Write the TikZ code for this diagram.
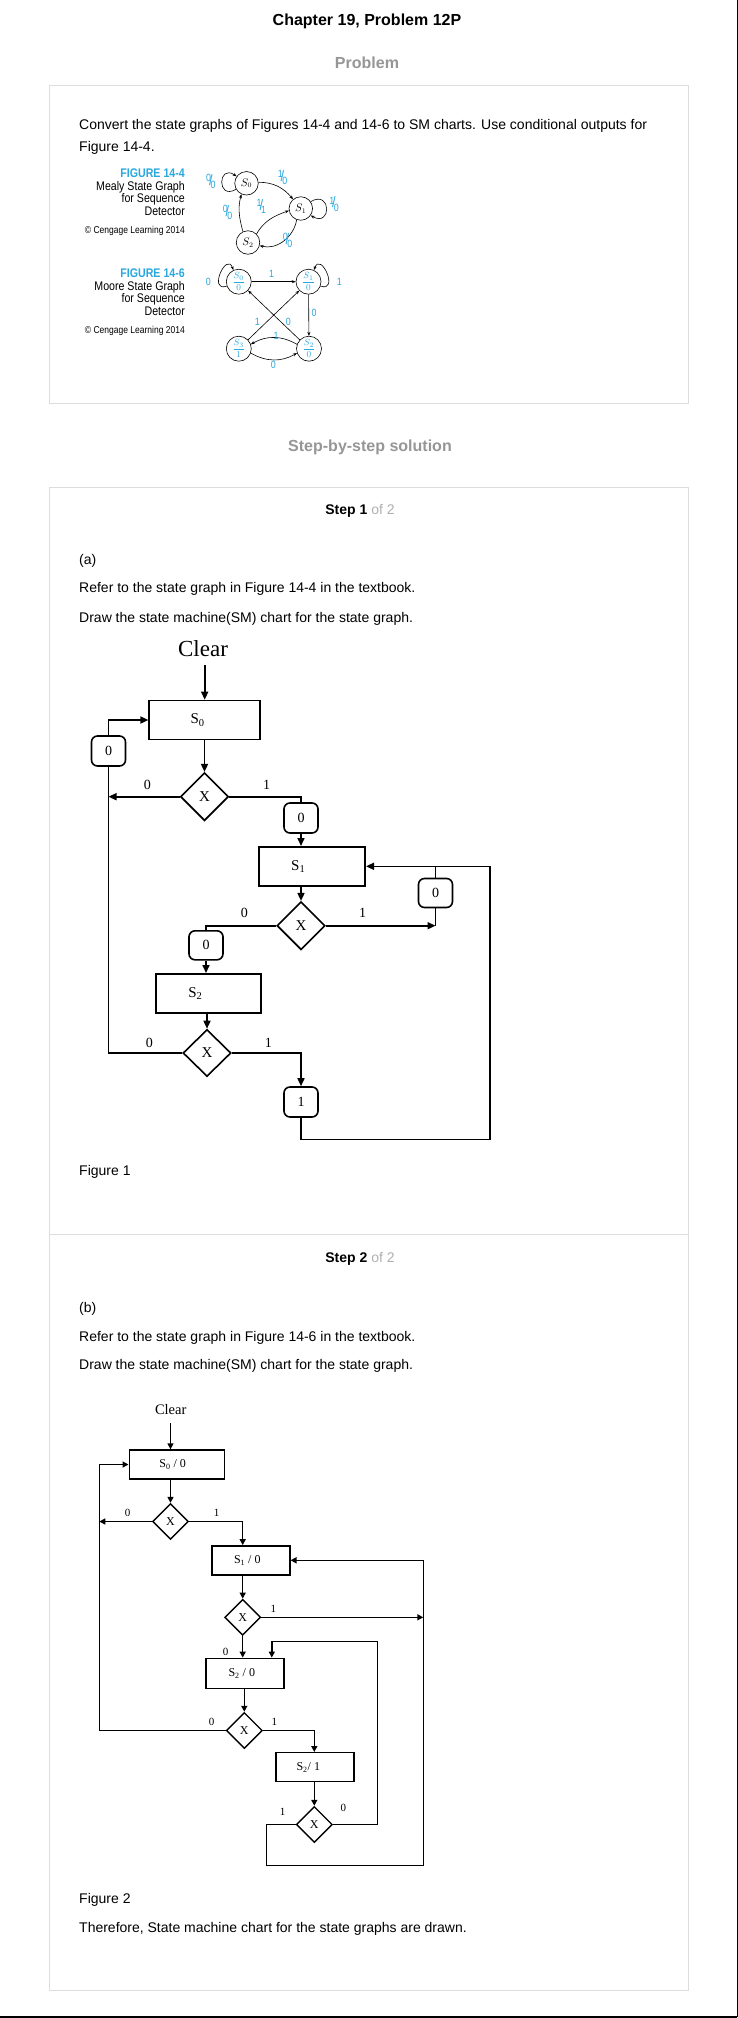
\documentclass[tikz,border=0pt]{standalone}
\usepackage{amsmath}
\usepackage{fontspec}
\setmainfont{Liberation Sans}
\newfontfamily\chartfont{Liberation Serif}
\newfontfamily\figfont[FakeStretch=0.85]{Liberation Sans}
\usepackage{xcolor}
\usetikzlibrary{shapes,arrows,positioning,calc,arrows.meta}

\definecolor{figblue}{RGB}{41,168,224}
\definecolor{framegray}{RGB}{221,221,221}
\definecolor{headgray}{RGB}{150,150,150}
\definecolor{stepgray}{RGB}{175,175,175}

\newcommand{\fs}[1]{\fontsize{#1pt}{#1pt}\selectfont}
\newcommand{\slfrac}[2]{\raisebox{3.5pt}{#1}\kern-2pt{\fs{15}/}\kern-2pt\raisebox{-3.5pt}{#2}}

\begin{document}
\begin{tikzpicture}[x=1pt,y=-1pt,
    txt/.style={anchor=base west, inner sep=0, font=\fs{14}},
    head/.style={anchor=base, inner sep=0, font=\fs{16}\bfseries, text=headgray},
    panel/.style={draw=framegray, line width=1pt},
    sbox/.style={draw, line width=1.6pt, minimum height=39pt, inner sep=0},
    dbox/.style={draw, diamond, line width=1.6pt, minimum width=48pt, minimum height=48pt, inner sep=0, font=\chartfont\fs{15}},
    cbox/.style={draw, line width=1.6pt, rounded corners=6pt, minimum width=34pt, minimum height=30pt, inner sep=0, font=\chartfont\fs{14}},
    slbl/.style={font=\chartfont\fs{15}},
    lbl/.style={inner sep=0, font=\chartfont\fs{14}},
    sarr/.style={line width=1.6pt, -{Triangle[length=8pt,width=7pt]}},
    tbox/.style={draw, line width=1.4pt, minimum width=78pt, minimum height=29pt, inner sep=0},
    ebox/.style={draw, diamond, line width=1.4pt, minimum width=36pt, minimum height=36pt, inner sep=0, font=\chartfont\fs{12}},
    tlbl/.style={font=\chartfont\fs{12}},
    slab/.style={inner sep=0, font=\chartfont\fs{11}},
    tarr/.style={line width=1.4pt, -{Triangle[length=6pt,width=6pt]}},
    figtxt/.style={anchor=base east, inner sep=0, font=\figfont\fs{12.5}},
    fst/.style={draw, circle, line width=0.6pt, minimum size=23.5pt, inner sep=0},
    farr/.style={line width=0.6pt, -{Stealth[length=4pt,width=3pt]}},
    flbl/.style={inner sep=0, text=figblue, font=\figfont\fs{10.5}}]

    % Page
    \fill[white] (0,0) rectangle (738,2018);
    \useasboundingbox (0,0) rectangle (738,2018);
    \draw[line width=1.2pt] (0,2017) -- (737.4,2017);
    \draw[line width=1.2pt] (737.4,0) -- (737.4,2017);

    % Problem
    \node[head, text=black] (title) at (367,26) {Chapter 19, Problem 12P};
    \node[head] (probhead) at (367,68) {Problem};
    \draw[panel] (49,85) rectangle (688,403);
    \node[txt] (task1) at (79,129) {Convert the state graphs of Figures 14-4 and 14-6 to SM charts. Use conditional outputs for};
    \node[txt] (task2) at (79,151.7) {Figure 14-4.};

    % Figure 14-4 caption
    \node[figtxt, text=figblue, font=\figfont\fs{12.5}\bfseries] (f4a) at (185,177.6) {FIGURE 14-4};
    \node[figtxt] (f4b) at (185,190.3) {Mealy State Graph};
    \node[figtxt] (f4c) at (185,202.8) {for Sequence};
    \node[figtxt] (f4d) at (185,215.3) {Detector};
    \node[figtxt, font=\figfont\fs{10}] (f4e) at (185,233.5) {\textcopyright\ Cengage Learning 2014};

    % Mealy graph
    \node[fst] (m0) at (246.5,183.3) {\fs{10.5}$S_0$};
    \node[fst] (m1) at (300.8,208.5) {\fs{10.5}$S_1$};
    \node[fst] (m2) at (248,242.5) {\fs{10.5}$S_2$};
    \draw[farr] (m0.210) to[out=210,in=145,looseness=4.5] (m0.145);
    \draw[farr] (m0.5) to[out=0,in=130] (m1.130);
    \draw[farr] (m1.35) to[out=30,in=-30,looseness=4.5] (m1.-35);
    \draw[farr] (m1.-110) to[out=-100,in=-15] (m2.-15);
    \draw[farr] (m2.45) to[out=60,in=200] (m1.190);
    \draw[farr] (m2.115) to[out=105,in=-105] (m0.-115);
    \node[flbl] (g1) at (210.8,181.7) {\slfrac{0}{0}};
    \node[flbl] (g2) at (282.5,177.5) {\slfrac{1}{0}};
    \node[flbl] (g3) at (334,204) {\slfrac{1}{0}};
    \node[flbl] (g4) at (261.3,206.5) {\slfrac{1}{1}};
    \node[flbl] (g5) at (227.5,212.5) {\slfrac{0}{0}};
    \node[flbl] (g6) at (287.5,240.8) {\slfrac{0}{0}};

    % Figure 14-6 caption
    \node[figtxt, text=figblue, font=\figfont\fs{12.5}\bfseries] (f6a) at (185,277.6) {FIGURE 14-6};
    \node[figtxt] (f6b) at (185,290.3) {Moore State Graph};
    \node[figtxt] (f6c) at (185,302.8) {for Sequence};
    \node[figtxt] (f6d) at (185,315.3) {Detector};
    \node[figtxt, font=\figfont\fs{10}] (f6e) at (185,333.5) {\textcopyright\ Cengage Learning 2014};

    % Moore graph
    \node[fst, minimum size=25pt, text=figblue] (n0) at (238.8,281.7) {\fs{9.5}$\dfrac{S_0}{0}$};
    \node[fst, minimum size=25pt, text=figblue] (n1) at (308.5,281.7) {\fs{9.5}$\dfrac{S_1}{0}$};
    \node[fst, minimum size=25pt, text=figblue] (n2) at (309,348.7) {\fs{9.5}$\dfrac{S_2}{0}$};
    \node[fst, minimum size=25pt, text=figblue] (n3) at (238.8,348.7) {\fs{9.5}$\dfrac{S_3}{1}$};
    \draw[farr] (n0.200) to[out=200,in=110,looseness=3] (n0.115);
    \draw[farr] (n0) -- (n1);
    \draw[farr] (n1.-20) to[out=-20,in=70,looseness=3] (n1.65);
    \draw[farr] (n1) -- (n2);
    \draw[farr] (n2) -- (n0);
    \draw[farr] (n3) -- (n1);
    \draw[farr] (n2.160) to[out=150,in=30] (n3.20);
    \draw[farr] (n3.-20) to[out=-30,in=-150] (n2.-160);
    \node[flbl] (h1) at (208.3,281.7) {0};
    \node[flbl] (h2) at (271.7,274) {1};
    \node[flbl] (h3) at (339.3,281.7) {1};
    \node[flbl] (h4) at (314,313.3) {0};
    \node[flbl] (h5) at (288.3,321.7) {0};
    \node[flbl] (h6) at (257.3,322.3) {1};
    \node[flbl] (h7) at (276,336) {1};
    \node[flbl] (h8) at (273.3,365) {0};

    % Solution
    \node[head] (solhead) at (370,451.8) {Step-by-step solution};
    \draw[panel] (49,487) rectangle (688,1990);
    \draw[panel] (49,1234.5) -- (688,1234.5);

    % Step 1
    \node[anchor=base, inner sep=0, font=\fs{14}] (step1) at (360,514) {\textbf{Step 1} \textcolor{stepgray}{of 2}};
    \node[txt] (parta) at (79,564) {(a)};
    \node[txt] (refa) at (79,592) {Refer to the state graph in Figure 14-4 in the textbook.};
    \node[txt] (drawa) at (79,622) {Draw the state machine(SM) chart for the state graph.};

    % SM chart (a)
    \node[inner sep=0, font=\chartfont\fs{23}] (clr1) at (203,649) {Clear};
    \node[sbox, minimum width=111pt, label={[slbl,xshift=-7pt]center:S\textsubscript{0}}] (a0) at (204.7,720) {};
    \node[dbox] (ax0) at (204.5,796.7) {X};
    \node[cbox] (ac0) at (108.5,751) {0};
    \node[cbox] (ac1) at (301,818) {0};
    \node[sbox, minimum width=106pt, label={[slbl,xshift=-14pt]center:S\textsubscript{1}}] (a1) at (312.2,866.3) {};
    \node[cbox, minimum height=29pt] (ac2) at (435.5,893) {0};
    \node[dbox] (ax1) at (301,925.7) {X};
    \node[cbox, minimum height=29pt] (ac3) at (206,945.3) {0};
    \node[sbox, minimum width=105pt, label={[slbl,xshift=-13pt]center:S\textsubscript{2}}] (a2) at (208.3,993.3) {};
    \node[dbox, minimum height=47pt] (ax2) at (207,1053) {X};
    \node[cbox] (ac4) at (301,1102) {1};
    \coordinate (acr) at (490,1139.3);

    \draw[sarr, shorten <=8pt] (clr1.south -| a0.north) -- (a0.north);
    \draw[sarr] (a0.south -| ax0) -- (ax0.north);
    \draw[sarr] (ax0.west) -- (ax0.west -| ac0);
    \draw[line width=1.6pt] (ax2.west) -| (ac0.south);
    \draw[sarr] (ac0.north) |- (a0.west);
    \draw[line width=1.6pt] (ax0.east) -| (ac1.north);
    \draw[sarr] (ac1.south) -- (ac1.south |- a1.north);
    \draw[sarr] (a1.south -| ax1) -- (ax1.north);
    \draw[sarr] (ax1.east) -- (ax1.east -| ac2);
    \draw[line width=1.6pt] (ac2.south) -- (ax1.east -| ac2);
    \draw[line width=1.6pt] (ac2.north) -- (ac2.north |- a1.east);
    \draw[line width=1.6pt] (ax1.west) -| (ac3.north);
    \draw[sarr] (ac3.south) -- (ac3.south |- a2.north);
    \draw[sarr] (a2.south -| ax2) -- (ax2.north);
    \draw[sarr] (ax2.east) -| (ac4.north);
    \draw[sarr] (ac4.south) |- (acr) |- (a1.east);
    \node[lbl] (k1) at (147.3,785) {0};
    \node[lbl] (k2) at (266.7,785) {1};
    \node[lbl] (k3) at (244.3,913.3) {0};
    \node[lbl] (k4) at (362.7,913.3) {1};
    \node[lbl] (k5) at (149.3,1043.3) {0};
    \node[lbl] (k6) at (268.3,1043.3) {1};

    \node[txt] (fig1) at (79,1175.7) {Figure 1};

    % Step 2
    \node[anchor=base, inner sep=0, font=\fs{14}] (step2) at (360,1262) {\textbf{Step 2} \textcolor{stepgray}{of 2}};
    \node[txt] (partb) at (79,1312) {(b)};
    \node[txt] (refb) at (79,1341) {Refer to the state graph in Figure 14-6 in the textbook.};
    \node[txt] (drawb) at (79,1369) {Draw the state machine(SM) chart for the state graph.};

    % SM chart (b)
    \node[inner sep=0, font=\chartfont\fs{14.5}] (clr2) at (170.7,1410) {Clear};
    \node[tbox, minimum width=95pt, label={[tlbl,xshift=-4pt]center:S\textsubscript{0} / 0}] (b0) at (176.7,1464.5) {};
    \node[ebox] (bx0) at (170.5,1521.5) {X};
    \node[tbox, label={[tlbl,xshift=-3.5pt]center:S\textsubscript{1} / 0}] (b1) at (250.8,1560.3) {};
    \node[ebox] (bx1) at (242.7,1617.3) {X};
    \node[tbox, minimum height=30pt, label={[tlbl,xshift=-3pt]center:S\textsubscript{2} / 0}] (b2) at (244.8,1673.3) {};
    \node[ebox] (bx2) at (244.3,1730.5) {X};
    \node[tbox, label={[tlbl,xshift=-6.7pt]center:S\textsubscript{2}/ 1}] (b3) at (315,1767.2) {};
    \node[ebox] (bx3) at (314.3,1824.5) {X};
    \coordinate (bl) at (99.3,1464.5);
    \coordinate (br) at (423.3,1865.7);
    \coordinate (bm) at (266.7,1865.7);
    \coordinate (bt) at (377.7,1641.7);

    \draw[tarr, shorten <=8pt] (clr2.south -| bx0) -- (b0.north -| bx0);
    \draw[tarr] (b0.south -| bx0) -- (bx0.north);
    \draw[tarr] (bx0.west) -- (bx0.west -| bl);
    \draw[tarr] (bx2.west) -| (bl) -- (b0.west);
    \draw[tarr] (bx0.east) -| (b1.north -| bx1);
    \draw[tarr] (b1.south -| bx1) -- (bx1.north);
    \draw[tarr] (bx1.east) -- (bx1.east -| br);
    \draw[tarr] (bx3.west) -| (bm) -- (br) |- (b1.east);
    \draw[tarr] (bx1.south) -- (b2.north -| bx1);
    \draw[tarr] (bx3.east) -| (bt) -| ([xshift=27pt]b2.north);
    \draw[tarr] (b2.south -| bx2) -- (bx2.north);
    \draw[tarr] (bx2.east) -| (b3.north -| bx3);
    \draw[tarr] (b3.south -| bx3) -- (bx3.north);
    \node[slab] (j1) at (127.7,1512.7) {0};
    \node[slab] (j2) at (216.7,1512.7) {1};
    \node[slab] (j3) at (273.3,1608.7) {1};
    \node[slab] (j4) at (225.7,1651.7) {0};
    \node[slab] (j5) at (211.7,1721.7) {0};
    \node[slab] (j6) at (274.3,1721.7) {1};
    \node[slab] (j7) at (282.7,1811.7) {1};
    \node[slab] (j8) at (343.3,1808.3) {0};

    \node[txt] (fig2) at (79,1903.3) {Figure 2};
    \node[txt] (concl) at (79,1932.3) {Therefore, State machine chart for the state graphs are drawn.};
\end{tikzpicture}
\end{document}
